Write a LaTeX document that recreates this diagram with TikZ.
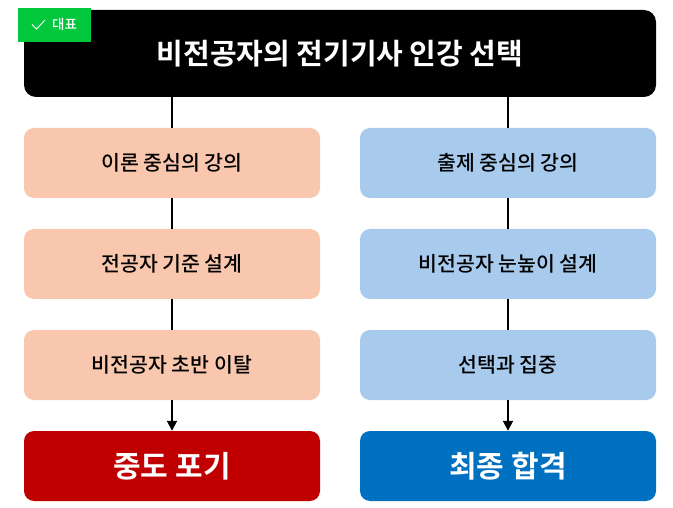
\documentclass[tikz,border=0pt]{standalone}
\usepackage{fontspec}
\setmainfont{Noto Sans CJK KR}
\newfontfamily\krbold{Noto Sans CJK KR Bold}
\newfontfamily\krmed{Noto Sans CJK KR Medium}
\usetikzlibrary{arrows.meta}
\definecolor{peach}{HTML}{F8C7AD}
\definecolor{lblue}{HTML}{A8CAEC}
\definecolor{dred}{HTML}{C00000}
\definecolor{dblue}{HTML}{0070C0}
\definecolor{badgegreen}{HTML}{00C73C}
\tikzset{
  box/.style={rounded corners=10pt, minimum width=296pt, minimum height=70pt, inner sep=0pt, text=black, font=\krmed\fontsize{20.5}{24}\selectfont},
  lbox/.style={box, fill=peach},
  rbox/.style={box, fill=lblue},
  endbox/.style={box, text=white, font=\krbold\fontsize{30}{34}\selectfont},
  conn/.style={line width=1.8pt, draw=black},
}
\begin{document}
\begin{tikzpicture}[x=1pt,y=-1pt]
\useasboundingbox (0,0) rectangle (673,508);
\fill[white] (0,0) rectangle (673,508);
% title
\node[rounded corners=12pt, fill=black, minimum width=632pt, minimum height=87pt, inner sep=0pt, text=white, font=\krbold\fontsize{29}{33}\selectfont] (title) at (340,53.5) {비전공자의 전기기사 인강 선택};
% badge
\node[fill=badgegreen, minimum width=73pt, minimum height=34pt, inner sep=0pt, anchor=north west] (badge) at (18,8) {};
\draw[white, line width=0.9pt] (32,24.5) -- (36.5,29) -- (45,20);
\node[text=white, font=\krmed\fontsize{13.5}{15}\selectfont, anchor=west, inner sep=0pt] (badgetxt) at (52,24.5) {대표};
% left column
\node[lbox] (l1) at (172,163) {이론 중심의 강의};
\node[lbox] (l2) at (172,264) {전공자 기준 설계};
\node[lbox] (l3) at (172,365) {비전공자 초반 이탈};
\node[endbox, fill=dred] (l4) at (172,466) {중도 포기};
% right column
\node[rbox] (r1) at (508,163) {출제 중심의 강의};
\node[rbox] (r2) at (508,264) {비전공자 눈높이 설계};
\node[rbox] (r3) at (508,365) {선택과 집중};
\node[endbox, fill=dblue] (r4) at (508,466) {최종 합격};
% connectors
\draw[conn] (title.south -| l1.north) -- (l1.north);
\draw[conn] (l1) -- (l2);
\draw[conn] (l2) -- (l3);
\draw[conn, -{Triangle[length=10pt,width=10pt]}] (l3.south) -- (l4.north);
\draw[conn] (title.south -| r1.north) -- (r1.north);
\draw[conn] (r1) -- (r2);
\draw[conn] (r2) -- (r3);
\draw[conn, -{Triangle[length=10pt,width=10pt]}] (r3.south) -- (r4.north);
\end{tikzpicture}
\end{document}
